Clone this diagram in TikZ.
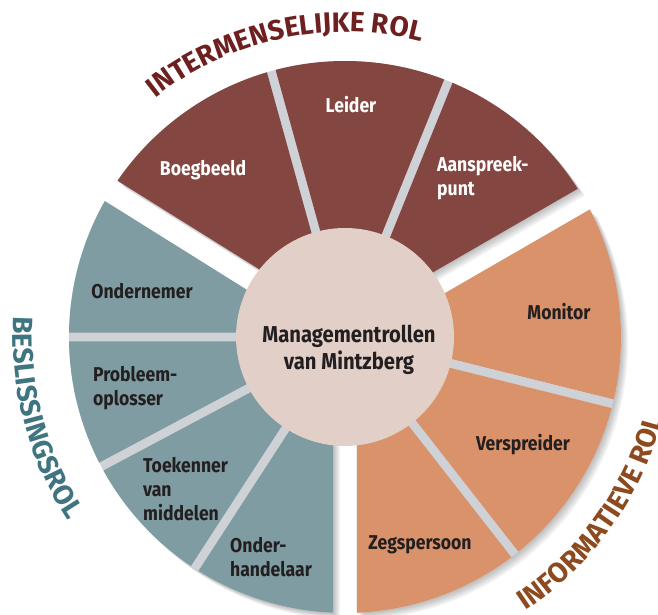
\documentclass[tikz,border=0pt]{standalone}
\usepackage{fontspec}
\newfontfamily\figfont{Fira Sans}[FakeStretch=0.88]
\newfontfamily\titlefamily{Fira Sans}
\usetikzlibrary{decorations.text,positioning}
\definecolor{brownrol}{RGB}{131,70,64}
\definecolor{orangerol}{RGB}{217,146,106}
\definecolor{tealrol}{RGB}{126,156,161}
\definecolor{hubrol}{RGB}{226,207,200}
\definecolor{gaprol}{RGB}{206,210,214}
\definecolor{inkrol}{RGB}{35,31,32}
\definecolor{titlebrown}{RGB}{110,32,32}
\definecolor{titleteal}{RGB}{62,117,128}
\definecolor{titleorange}{RGB}{140,74,30}
\def\Rout{276}
\def\Rin{60}
% wedge from #1 to #2 degrees, edges pulled in by #3 and #4 (pt)
\newcommand{\wedgepath}[4]{({#1+asin(#3/\Rout)}:\Rout) arc[start angle={#1+asin(#3/\Rout)}, end angle={#2-asin(#4/\Rout)}, radius=\Rout pt] -- ({#2-asin(#4/\Rin)}:\Rin) arc[start angle={#2-asin(#4/\Rin)}, end angle={#1+asin(#3/\Rin)}, radius=\Rin pt] -- cycle}
\newcommand{\titlefont}{\titlefamily\bfseries\fontsize{28}{28}\selectfont}
\begin{document}
\begin{tikzpicture}
  [
    x=1pt, y=1pt,
    Label/.style={font={\figfont\bfseries\fontsize{20}{24}\selectfont}, align=left, inner sep=0pt},
    Light/.style={Label, text=white},
    Dark/.style={Label, text=inkrol},
    Hub/.style={circle, fill=hubrol, minimum size=218pt, inner sep=0pt}
  ]
  \useasboundingbox (-345,-278) rectangle (313,337);
  \clip (-345,-278) rectangle (313,337);
  % Shadows and gaps
  \foreach \s in {1,...,7}
    \foreach \a/\b in {30/148, -90/30, 148/270}
      \fill[black, opacity=0.04, shift={(\s,-\s)}] \wedgepath{\a}{\b}{12}{12};
  \foreach \a/\b in {30/148, -90/30, 148/270}
    \fill[gaprol] \wedgepath{\a}{\b}{12}{12};
  % Sectors
  \fill[brownrol] \wedgepath{105.5}{148}{4.5}{12};
  \fill[brownrol] \wedgepath{68}{105.5}{4.5}{4.5};
  \fill[brownrol] \wedgepath{30}{68}{12}{4.5};
  \fill[orangerol] \wedgepath{-14}{30}{4.5}{12};
  \fill[orangerol] \wedgepath{-52}{-14}{4.5}{4.5};
  \fill[orangerol] \wedgepath{-90}{-52}{12}{4.5};
  \fill[tealrol] \wedgepath{148}{180}{12}{4.5};
  \fill[tealrol] \wedgepath{180}{208}{4.5}{4.5};
  \fill[tealrol] \wedgepath{208}{237}{4.5}{4.5};
  \fill[tealrol] \wedgepath{237}{270}{4.5}{12};
  % Nodes
  \node[Hub] (hub) at (0,0) {};
  \node[Label, align=center, text=inkrol, font={\figfont\bfseries\fontsize{23}{27}\selectfont}] (hubtext) at (4,-13) {Managementrollen\\van Mintzberg};
  \node[Light] (leider) at (6,232) {Leider};
  \node[Light] (boegbeeld) at (-142,167) {Boegbeeld};
  \node[Light, anchor=west] (aanspreekpunt) at (92,159) {Aanspreek-\\punt};
  \node[Dark] (monitor) at (214,25) {Monitor};
  \node[Dark] (verspreider) at (178,-108) {Verspreider};
  \node[Dark] (zegspersoon) at (75,-208) {Zegspersoon};
  \node[Dark, anchor=west] (onderhandelaar) at (-115,-220) {Onder-\\handelaar};
  \node[Dark, anchor=west] (toekenner) at (-202,-152) {Toekenner\\van\\middelen};
  \node[Dark, anchor=west] (probleemoplosser) at (-252,-51) {Probleem-\\oplosser};
  \node[Dark] (ondernemer) at (-203,46) {Ondernemer};
  % Titles
  \path[decorate, decoration={text along path, text align=center, text={|\titlefont\color{titlebrown}|INTERMENSELIJKE ROL}}] (150:305) arc[start angle=150, end angle=54, radius=305pt];
  \path[decorate, decoration={text along path, text align=center, text={|\titlefont\color{titleteal}|BESLISSINGSROL}}] (162:332) arc[start angle=162, end angle=228, radius=332pt];
  \path[decorate, decoration={text along path, text align=center, text={|\titlefont\color{titleorange}|INFORMATIEVE ROL}}] (-75:328) arc[start angle=-75, end angle=4, radius=328pt];
\end{tikzpicture}
\end{document}
